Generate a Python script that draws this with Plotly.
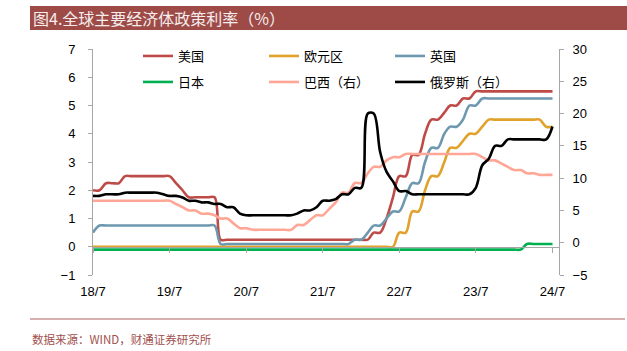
import pandas as pd
import plotly.graph_objects as go

# ---------------- data (monthly, 2018-07 .. 2024-07) ----------------
months = pd.date_range("2018-07-01", periods=73, freq="MS")

us = ([2.0, 2.0, 2.25, 2.25, 2.25, 2.5] + [2.5] * 7 +
      [2.25, 2.0, 1.75, 1.75, 1.75, 1.75, 1.75] + [0.25] * 10 + [0.25] * 12 +
      [0.25, 0.25, 0.5, 0.5, 1.0, 1.75, 2.5, 2.5, 3.25, 3.25, 4.0, 4.5] +
      [4.5, 4.75, 5.0, 5.0, 5.25, 5.25] + [5.5] * 6 + [5.5] * 7)

euro = ([0.0] * 48 +
        [0.5, 0.5, 1.25, 1.25, 2.0, 2.5, 2.5, 3.0, 3.5, 3.5, 3.75, 4.0, 4.0, 4.25, 4.5] +
        [4.5] * 8 + [4.25, 4.25])

uk = ([0.5, 0.75] + [0.75] * 18 + [0.1] + [0.1] * 20 +
      [0.25, 0.25, 0.5, 0.75, 0.75, 1.0, 1.25, 1.25, 1.75, 2.25, 2.25, 3.0, 3.5,
       3.5, 4.0, 4.25, 4.25, 4.5, 5.0, 5.0, 5.25] + [5.25] * 11)

japan = [-0.1] * 68 + [0.1] * 5

brazil = ([6.5] * 13 +
          [6.0, 5.5, 5.0, 5.0, 4.5, 4.5, 4.25, 3.75, 3.75, 3.0, 2.25, 2.25, 2.0] +
          [2.0] * 6 +
          [2.75, 2.75, 3.5, 4.25, 4.25, 5.25, 6.25, 7.75, 7.75, 9.25, 9.25, 10.75,
           11.75, 11.75, 12.75, 13.25, 13.25, 13.75] +
          [13.75] * 11 +
          [13.25, 12.75, 12.75, 12.25, 11.75, 11.25, 11.25, 10.75, 10.75, 10.5, 10.5, 10.5])

russia = ([7.25, 7.25, 7.5, 7.5, 7.5, 7.75] + [7.75] * 5 +
          [7.5, 7.25, 7.25, 7.0, 6.5, 6.5, 6.25, 6.25, 6.0, 6.0, 5.5, 5.5, 4.5, 4.25] +
          [4.25] * 7 +
          [4.5, 5.0, 5.0, 5.5, 6.5, 6.5, 6.75, 7.5, 7.5, 8.5, 8.5, 20.0, 20.0, 14.0,
           11.0, 9.5, 8.0, 8.0, 7.5] +
          [7.5] * 9 +
          [8.5, 12.0, 13.0, 15.0, 15.0, 16.0] + [16.0] * 6 + [18.0])

tick_dates = pd.date_range("2018-07-01", periods=7, freq="12MS")
tick_text = ["18/7", "19/7", "20/7", "21/7", "22/7", "23/7", "24/7"]

left_names = ["美国", "欧元区", "英国", "日本"]
right_names = ["巴西（右）", "俄罗斯（右）"]

title_text = "图4.全球主要经济体政策利率（%）"
source_text = "数据来源：WIND，财通证券研究所"

# ---------------- styling ----------------
colors = {"美国": "#BE4B48", "欧元区": "#E0A22B", "英国": "#6E98B0",
          "日本": "#00B050", "巴西（右）": "#FFA696", "俄罗斯（右）": "#000000"}
CJK = "Noto Sans CJK SC"
AX = "#A6A6A6"

fig = go.Figure()
left_series = [us, euro, uk, japan]
right_series = [brazil, russia]
legend_of = {"美国": "legend", "欧元区": "legend", "英国": "legend",
             "日本": "legend2", "巴西（右）": "legend2", "俄罗斯（右）": "legend2"}

for name, vals in zip(left_names, left_series):
    fig.add_trace(go.Scatter(x=months, y=vals, name=name, mode="lines",
                             line=dict(color=colors[name], width=2.6, shape="spline", smoothing=1),
                             legend=legend_of[name], yaxis="y"))
for name, vals in zip(right_names, right_series):
    fig.add_trace(go.Scatter(x=months, y=vals, name=name, mode="lines",
                             line=dict(color=colors[name], width=2.6, shape="spline", smoothing=1),
                             legend=legend_of[name], yaxis="y2"))

# empty trace to carry the zero-line x axis
fig.add_trace(go.Scatter(x=[], y=[], xaxis="x2", yaxis="y", showlegend=False, hoverinfo="skip"))

xr = ["2018-07-01", "2024-08-01"]
L, R, T, B = 93, 68, 49, 76
W, H = 627, 351
pw, ph = W - L - R, H - T - B


def px(x):
    return (x - L) / pw


def py(y):
    return (H - B - y) / ph


legend_common = dict(orientation="h", xanchor="left", yanchor="top", entrywidth=81,
                     entrywidthmode="pixels", bgcolor="rgba(0,0,0,0)",
                     font=dict(family=CJK, size=13, color="#000"), itemwidth=30,
                     tracegroupgap=0)

fig.update_layout(
    width=W, height=H,
    margin=dict(l=L, r=R, t=T, b=B),
    paper_bgcolor="white", plot_bgcolor="white",
    font=dict(family="Liberation Sans, Arial", size=13, color="#000"),
    showlegend=True,
    legend=dict(x=px(138), y=py(41), **legend_common),
    legend2=dict(x=px(138), y=py(67), **legend_common),
    xaxis=dict(range=xr, type="date", tickvals=tick_dates, ticktext=tick_text,
               showline=False, ticks="", showgrid=False, zeroline=False,
               tickfont=dict(family="Liberation Sans, Arial", size=13, color="#000"),
               ticklabelstandoff=7),
    xaxis2=dict(range=xr, type="date", overlaying="x", anchor="free", position=1 / 8,
                tickvals=tick_dates, showticklabels=False, showline=True, linecolor=AX,
                linewidth=1, ticks="outside", ticklen=5, tickcolor=AX, showgrid=False,
                zeroline=False),
    yaxis=dict(range=[-1, 7], dtick=1, showline=True, linecolor=AX, linewidth=1,
               ticks="outside", ticklen=4, tickcolor=AX, showgrid=False, zeroline=False,
               tickfont=dict(size=13), ticklabelstandoff=10),
    yaxis2=dict(range=[-5, 30], dtick=5, overlaying="y", side="right", anchor="x",
                showline=True, linecolor=AX, linewidth=1, ticks="outside", ticklen=4,
                tickcolor=AX, showgrid=False, zeroline=False, tickfont=dict(size=13),
                ticklabelstandoff=6),
    shapes=[
        dict(type="rect", xref="paper", yref="paper", x0=px(30), x1=px(627),
             y0=py(30), y1=py(6), fillcolor="#9E4B47", line=dict(width=0)),
        dict(type="line", xref="paper", yref="paper", x0=px(30), x1=px(625),
             y0=py(319), y1=py(319), line=dict(color="#C99593", width=1.5)),
    ],
    annotations=[
        dict(text=title_text, xref="paper", yref="paper", x=px(31), y=py(18),
             xanchor="left", yanchor="middle", showarrow=False,
             font=dict(family=CJK, size=16, color="#F4EDED")),
        dict(text=source_text, xref="paper", yref="paper", x=px(30), y=py(339),
             xanchor="left", yanchor="middle", showarrow=False,
             font=dict(family=CJK, size=11.5, color="#A0504D")),
    ],
)

fig.write_html("out.html")
